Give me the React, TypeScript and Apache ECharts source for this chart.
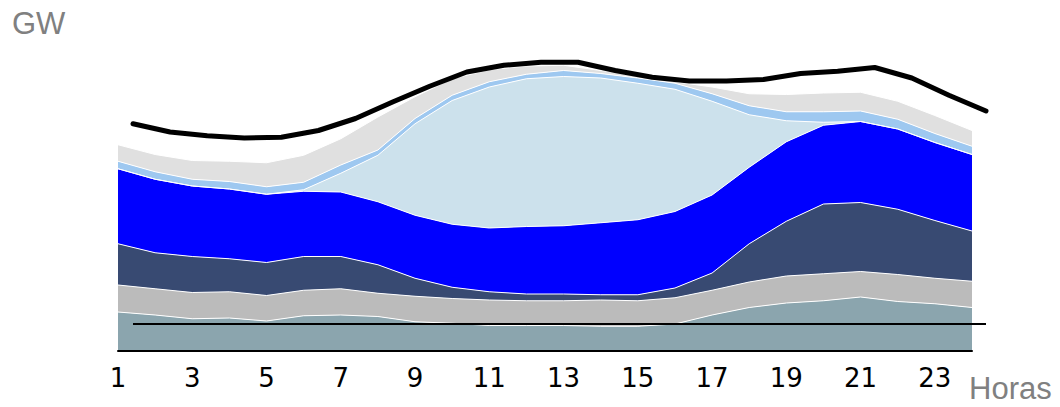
import React, { useEffect, useRef } from "react";
import * as echarts from "echarts";

const hours = ["1","2","3","4","5","6","7","8","9","10","11","12","13","14","15","16","17","18","19","20","21","22","23","24"];

const hidraulica = [5.2,4.8,4.3,4.4,4.0,4.7,4.8,4.6,3.9,3.7,3.4,3.4,3.4,3.3,3.3,3.6,4.8,5.8,6.4,6.7,7.2,6.6,6.3,5.8];
const nuclear = [3.6,3.5,3.5,3.5,3.4,3.4,3.5,3.1,3.4,3.3,3.4,3.3,3.3,3.5,3.4,3.5,3.3,3.4,3.6,3.6,3.4,3.6,3.4,3.5];
const cicloCombinado = [5.5,4.8,4.8,4.4,4.4,4.5,4.3,3.8,2.4,1.5,1.1,0.9,0.9,0.7,0.8,1.3,2.3,5.1,7.3,9.3,9.2,8.7,7.7,6.7];
const eolica = [10.0,9.8,9.4,9.3,9.1,8.7,8.6,8.4,8.4,8.4,8.5,9.0,9.1,9.6,10.0,10.2,10.4,10.2,10.6,10.5,10.8,10.7,10.4,10.2];
const fotovoltaica = [0,0,0,0,0,0.2,2.5,6.2,12.2,16.5,18.8,19.7,19.9,19.3,18.2,16.3,12.5,7.0,2.8,0.4,0,0,0,0];
const solarTermica = [1.0,1.0,0.9,1.0,1.0,1.0,1.1,0.7,0.7,0.7,0.7,0.6,0.8,0.6,0.7,0.8,1.0,1.2,1.2,1.4,1.4,1.3,1.2,1.1];
const otras = [2.2,2.3,2.5,2.7,3.2,3.6,3.5,4.4,2.9,2.2,1.6,1.1,0.7,0.4,0.4,0.2,0.9,1.6,2.3,2.5,2.5,2.4,2.4,2.1];
const demanda = [30.3,29.2,28.7,28.4,28.5,29.4,31.0,33.2,35.3,37.2,38.1,38.5,38.5,37.4,36.5,36.0,36.0,36.2,37.0,37.3,37.8,36.4,34.1,32.0];
const nivel = [3.6,3.6,3.6,3.6,3.6,3.6,3.6,3.6,3.6,3.6,3.6,3.6,3.6,3.6,3.6,3.6,3.6,3.6,3.6,3.6,3.6,3.6,3.6,3.6];

const areaDefs: [string, number[], string][] = [
  ["Hidráulica", hidraulica, "#8BA5AE"],
  ["Nuclear", nuclear, "#BBBBBB"],
  ["Ciclo combinado", cicloCombinado, "#384A72"],
  ["Eólica", eolica, "#0000FF"],
  ["Solar fotovoltaica", fotovoltaica, "#CCE1EC"],
  ["Solar térmica", solarTermica, "#9EC8F0"],
  ["Otras", otras, "#E0E0E0"],
];

export default function App() {
  const ref = useRef<HTMLDivElement>(null);
  useEffect(() => {
    if (!ref.current) return;
    const chart = echarts.init(ref.current, null, { renderer: "svg" });
    const areaSeries = areaDefs.map(([name, data, color]) => ({
      name,
      type: "line",
      stack: "total",
      data,
      symbol: "none",
      xAxisIndex: 0,
      yAxisIndex: 0,
      lineStyle: { color: "#ffffff", width: 1 },
      areaStyle: { color, opacity: 1 },
    }));
    chart.setOption({
      animation: false,
      grid: [
        { left: 118, right: 88, top: 13.5, bottom: 56 },
        { left: 133, right: 74, top: 13.5, bottom: 56 },
      ],
      xAxis: [
        {
          type: "category",
          gridIndex: 0,
          data: hours,
          boundaryGap: false,
          axisLine: { lineStyle: { color: "#000", width: 2 } },
          axisTick: { show: false },
          axisLabel: {
            interval: 1,
            fontSize: 26,
            color: "#000",
            fontFamily: "DejaVu Sans",
            margin: 14,
          },
          splitLine: { show: false },
          z: 10,
        },
        {
          type: "value",
          gridIndex: 1,
          min: 1,
          max: 24,
          show: false,
        },
      ],
      yAxis: [
        { type: "value", gridIndex: 0, min: 0, max: 45, show: false, splitLine: { show: false } },
        { type: "value", gridIndex: 1, min: 0, max: 45, show: false, splitLine: { show: false } },
      ],
      graphic: [
        {
          type: "text",
          left: 12,
          top: 8,
          style: { text: "GW", fontSize: 31, fill: "#808080", fontFamily: "Liberation Sans" },
        },
        {
          type: "text",
          left: 969,
          top: 373,
          style: { text: "Horas", fontSize: 31, fill: "#808080", fontFamily: "Liberation Sans" },
        },
      ],
      series: [
        ...areaSeries,
        {
          name: "Nivel",
          type: "line",
          xAxisIndex: 1,
          yAxisIndex: 1,
          data: hours.map((h, i) => [Number(h), nivel[i]]),
          symbol: "none",
          clip: false,
          lineStyle: { color: "#000", width: 2 },
          z: 5,
        },
        {
          name: "Demanda",
          type: "line",
          xAxisIndex: 1,
          yAxisIndex: 1,
          data: hours.map((h, i) => [Number(h), demanda[i]]),
          symbol: "none",
          clip: false,
          lineStyle: { color: "#000", width: 5, cap: "round" },
          z: 6,
        },
      ],
    });
    return () => chart.dispose();
  }, []);
  return (
    <div
      ref={ref}
      style={{ position: "fixed", left: 0, top: 0, width: 1060, height: 407, background: "#fff" }}
    />
  );
}
